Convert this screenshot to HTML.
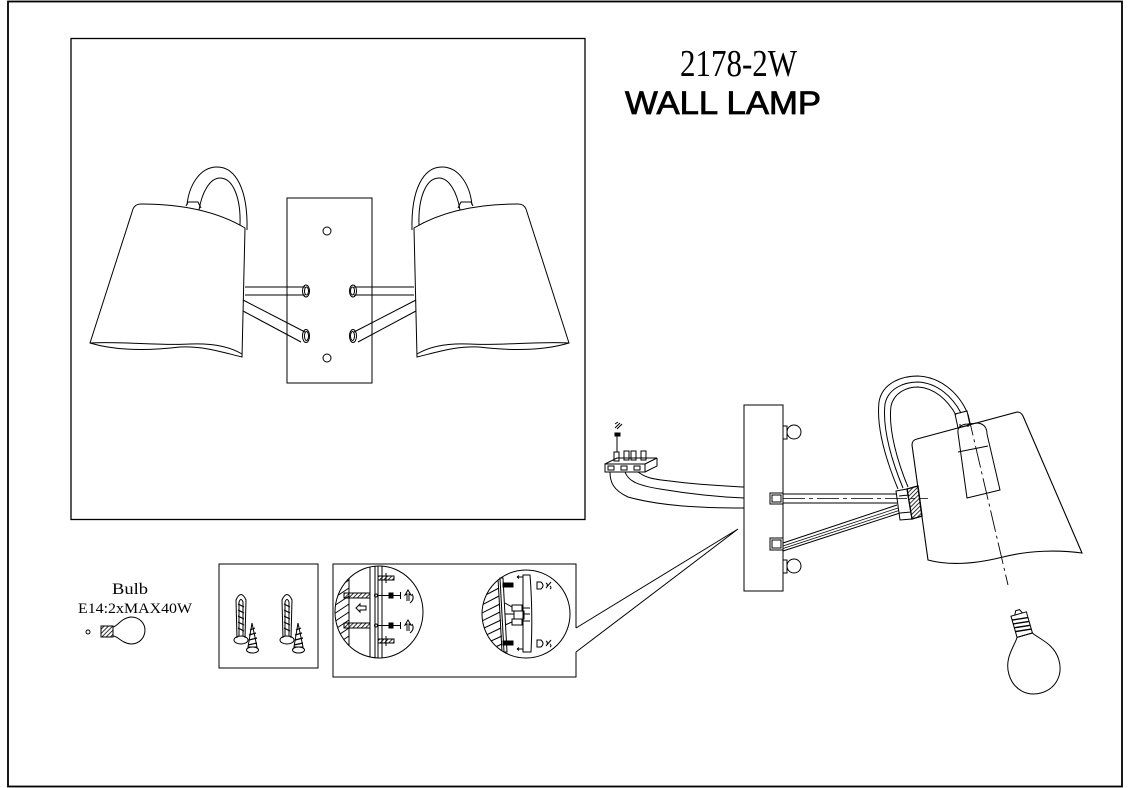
<!DOCTYPE html>
<html><head><meta charset="utf-8"><style>
html,body{margin:0;padding:0;background:#fff;}
svg{display:block;}
</style></head><body>
<svg width="1131" height="788" viewBox="0 0 1131 788" xmlns="http://www.w3.org/2000/svg">
<defs>
<pattern id="h" width="3" height="3" patternUnits="userSpaceOnUse" patternTransform="rotate(45)"><line x1="0" y1="0" x2="0" y2="3" stroke="#000" stroke-width="1.6"/></pattern>
<clipPath id="c1"><ellipse cx="379" cy="612" rx="44" ry="46"/></clipPath>
<clipPath id="c2"><ellipse cx="526" cy="614" rx="44" ry="44"/></clipPath>
</defs>
<rect width="1131" height="788" fill="#fff"/>
<g fill="none" stroke="#000" stroke-width="1">
<!-- frames -->
<rect x="8" y="1.5" width="1114" height="785" stroke-width="1.8"/>
<rect x="71" y="38.5" width="514" height="481" stroke-width="1.3"/>

<!-- front view -->
<rect x="287" y="198" width="85" height="185"/>
<circle cx="327" cy="231" r="4"/>
<circle cx="327" cy="358" r="4"/>
<g>
<path d="M133,209 Q135,204 141,204 Q205,204 245,228 L242,357 C225,353 205,346 180,347 C155,350 120,352 90,343 Z"/>
<path d="M90,343 C120,341 160,346 190,344 C215,343 232,348 242,354"/>
<path d="M187,205 C189,185 200,167 217,167 C236,167 248,190 247,230"/>
<path d="M199,210 C202,192 210,178 220,178 C233,178 241,198 240,225"/>
<path d="M186,206 L188,202 L198,202 L201,208"/>
<line x1="245" y1="287" x2="305" y2="287"/><line x1="245" y1="295" x2="305" y2="295"/>
<ellipse cx="306" cy="291" rx="3.5" ry="6"/><ellipse cx="306.5" cy="291" rx="2" ry="4"/>
<line x1="243" y1="300" x2="305" y2="332"/><line x1="243" y1="311" x2="301" y2="342"/>
<ellipse cx="306" cy="336" rx="3.5" ry="6.5"/><ellipse cx="306.5" cy="336" rx="2" ry="4.5"/>
</g>
<g transform="translate(659,0) scale(-1,1)">
<path d="M133,209 Q135,204 141,204 Q205,204 245,228 L242,357 C225,353 205,346 180,347 C155,350 120,352 90,343 Z"/>
<path d="M90,343 C120,341 160,346 190,344 C215,343 232,348 242,354"/>
<path d="M187,205 C189,185 200,167 217,167 C236,167 248,190 247,230"/>
<path d="M199,210 C202,192 210,178 220,178 C233,178 241,198 240,225"/>
<path d="M186,206 L188,202 L198,202 L201,208"/>
<line x1="245" y1="287" x2="305" y2="287"/><line x1="245" y1="295" x2="305" y2="295"/>
<ellipse cx="306" cy="291" rx="3.5" ry="6"/><ellipse cx="306.5" cy="291" rx="2" ry="4"/>
<line x1="243" y1="300" x2="305" y2="332"/><line x1="243" y1="311" x2="301" y2="342"/>
<ellipse cx="306" cy="336" rx="3.5" ry="6.5"/><ellipse cx="306.5" cy="336" rx="2" ry="4.5"/>
</g>

<!-- side view: wall plate -->
<rect x="744" y="405" width="39" height="186"/>
<rect x="783" y="426" width="4" height="13"/><circle cx="794" cy="432" r="7"/>
<rect x="783" y="560" width="4" height="13"/><circle cx="794" cy="566" r="7"/>
<rect x="770" y="493" width="13" height="11"/><rect x="772" y="495" width="9" height="7"/>
<rect x="770" y="538" width="13" height="12"/><rect x="772" y="540" width="9" height="8"/>
<!-- arms -->
<line x1="783" y1="494" x2="897" y2="494"/>
<line x1="783" y1="503" x2="897" y2="503"/>
<line x1="783" y1="498.5" x2="928" y2="498.5" stroke-dasharray="22 4 4 4" stroke-width="0.8"/>
<line x1="783" y1="543" x2="897" y2="505"/>
<line x1="783" y1="551" x2="900" y2="513"/>
<line x1="783" y1="546" x2="898" y2="508" stroke-width="0.7"/>
<line x1="783" y1="548.5" x2="899" y2="510.5" stroke-width="0.7"/>
<!-- joint -->
<path d="M896,491 L907,489 L912,519 L900,520 Z"/>
<line x1="899" y1="496" x2="909" y2="495"/><line x1="900" y1="513" x2="911" y2="512"/>
<path d="M907,489 L918,486 L922,516 L912,519 Z" fill="url(#h)" stroke-width="1.3"/>
<!-- handle -->
<path d="M898,489 C888,465 876,430 879,402 C882,384 900,376 918,376 C940,377 958,392 967,412"/>
<path d="M903,488 C893,464 882,430 885,404 C888,389 903,382 918,382 C937,383 952,396 961,413"/>
<path d="M908,487 C898,463 888,430 891,406 C894,393 906,387 918,387 C934,388 947,399 956,415"/>
<path d="M955,414 L967,411 L970,425 L958,428 Z"/>
<!-- shade -->
<path d="M912,445 Q912,440 917,439 L1017,412 Q1021,412 1023,416 L1082,553 C1060,550 1030,550 1003,557 C975,564 950,566 928,560 Z" stroke-width="1.1"/>
<!-- socket -->
<path d="M958,433 C957,427 962,424 968,424 L978,423 C984,424 987,428 987,434 L1000,490 L967,498 Z"/>
<path d="M960,428 L960,424 M968,424 L968,427"/>
<line x1="958" y1="452" x2="988" y2="446"/>
<line x1="968" y1="414" x2="1008" y2="585" stroke-dasharray="22 4 3 4" stroke-width="0.9"/>
<!-- side bulb -->
<g transform="translate(1033,664) rotate(-16)">
<path d="M-8,-30 C-12,-23 -26,-14 -26,3 C-26,20 -14,30 0,30 C14,30 26,20 26,3 C26,-14 12,-23 8,-30 Z"/>
<rect x="-8" y="-52" width="16" height="22"/>
<path d="M-8,-48 L8,-46 M-8,-44 L8,-42 M-8,-40 L8,-38 M-8,-36 L8,-34" stroke-width="1.4"/>
<path d="M-4,-52 L-2,-56 L2,-56 L4,-52"/>
</g>
<!-- terminal block -->
<rect x="605" y="464" width="40" height="8"/>
<path d="M605,464 L617,458 L657,458 L645,464"/>
<path d="M645,472 L657,466 L657,458"/>
<rect x="608" y="466" width="6" height="4"/><rect x="621" y="466" width="6" height="4"/><rect x="634" y="466" width="6" height="4"/>
<rect x="614" y="452" width="5" height="9"/><rect x="624" y="451" width="5" height="9"/><rect x="631" y="451" width="5" height="9"/><rect x="641" y="451" width="5" height="9"/>
<line x1="617" y1="436" x2="617" y2="452"/>
<rect x="615" y="433" width="5" height="3" fill="#000"/>
<path d="M615,428 L620,423 M617,429 L622,424 M615,424 L618,422"/>
<!-- wires -->
<path d="M610,472 C610,482 613,490 628,497 C660,506 700,508 744,508"/>
<path d="M625,472 C628,480 635,485 660,489 C690,494 720,497 744,498"/>
<path d="M638,472 C645,477 650,479 670,481 C700,485 725,486 744,487"/>
<!-- callout -->
<polyline points="576,628 738,529 576,652"/>

<!-- hardware box -->
<rect x="219" y="564" width="99" height="104"/>
<g>
<path d="M237,638 L236,600 Q241,589 246,600 L245,638"/>
<path d="M239,636 L239,602 Q241,597 243,602 L243,636"/>
<path d="M238,604 L244,607 M238,610 L244,613 M238,616 L244,619 M238,622 L244,625 M238,628 L244,631" stroke-width="1.2"/>
<ellipse cx="241" cy="640" rx="7" ry="4"/>
<path d="M252,623 L248,647 L257,647 Z"/>
<path d="M250,630 L255,628 M249,635 L256,633 M249,640 L257,638 M248,645 L257,643" stroke-width="1.2"/>
<ellipse cx="252.5" cy="650" rx="6" ry="3"/>
</g>
<g transform="translate(46,0)">
<path d="M237,638 L236,600 Q241,589 246,600 L245,638"/>
<path d="M239,636 L239,602 Q241,597 243,602 L243,636"/>
<path d="M238,604 L244,607 M238,610 L244,613 M238,616 L244,619 M238,622 L244,625 M238,628 L244,631" stroke-width="1.2"/>
<ellipse cx="241" cy="640" rx="7" ry="4"/>
<path d="M252,623 L248,647 L257,647 Z"/>
<path d="M250,630 L255,628 M249,635 L256,633 M249,640 L257,638 M248,645 L257,643" stroke-width="1.2"/>
<ellipse cx="252.5" cy="650" rx="6" ry="3"/>
</g>

<!-- inset box -->
<path d="M576,628 L576,564 L333,564 L333,677 L576,677 L576,652"/>
<!-- left circle -->
<ellipse cx="379" cy="612" rx="44" ry="46"/>
<g clip-path="url(#c1)">
<line x1="349" y1="576" x2="349" y2="650"/>
<path d="M334,590 L349,580 M334,598 L349,588 M334,606 L349,596 M334,614 L349,604 M334,622 L349,612 M334,630 L349,620 M334,638 L349,628 M334,646 L349,636 M334,654 L349,644 M334,662 L349,652"/>
<rect x="370" y="560" width="5" height="100"/>
<rect x="378" y="562" width="4" height="98"/>
</g>
<rect x="344" y="593" width="26" height="5" fill="url(#h)"/>
<rect x="344" y="623" width="26" height="5" fill="url(#h)"/>
<circle cx="376" cy="595.5" r="1.5"/><circle cx="376" cy="625.5" r="1.5"/>
<line x1="377" y1="595.5" x2="401" y2="595.5"/><line x1="377" y1="625.5" x2="401" y2="625.5"/>
<rect x="389" y="593" width="4" height="5" fill="#000"/><rect x="389" y="623" width="4" height="5" fill="#000"/>
<line x1="400.5" y1="592" x2="400.5" y2="599"/><line x1="400.5" y1="622" x2="400.5" y2="629"/>
<path d="M407,601 L407,594 L405,595 L408,590 L411,595 L409,594 L409,601 M412,594 Q415,599 410,603"/>
<path d="M407,631 L407,624 L405,625 L408,620 L411,625 L409,624 L409,631 M412,624 Q415,629 410,633"/>
<rect x="378" y="576" width="16" height="4" fill="url(#h)"/>
<rect x="378" y="639" width="16" height="4" fill="url(#h)"/>
<line x1="386" y1="573" x2="386" y2="583"/><line x1="386" y1="636" x2="386" y2="646"/>
<path d="M366,606 L360,606 L360,604 L356,608 L360,612 L360,610 L366,610 Z"/>
<!-- right circle -->
<ellipse cx="526" cy="614" rx="44" ry="44"/>
<g clip-path="url(#c2)">
<path d="M498,578 L502,652"/>
<path d="M480,590 L498,580 M480,598 L499,588 M480,606 L499,596 M480,614 L500,604 M480,622 L500,612 M480,630 L501,620 M480,638 L501,628 M480,646 L502,636 M480,654 L502,644 M480,662 L502,652"/>
</g>
<path d="M500,578 L503,578 L507,652 L504,652 Z"/>
<path d="M523,575 L530,575 Q533,613 531,652 L523,652 Z"/>
<rect x="503" y="583" width="10" height="4" fill="#000"/>
<rect x="503" y="641" width="10" height="4" fill="#000"/>
<path d="M517,577 L523,577 M517,577 L519,575.5 M517,577 L519,578.5"/>
<path d="M517,649 L523,649 M517,649 L519,647.5 M517,649 L519,650.5"/>
<rect x="512" y="605" width="10" height="6"/><rect x="514" y="611" width="10" height="8"/><rect x="512" y="619" width="10" height="6"/>
<path d="M505,603 L512,607 M505,625 L512,622 M505,614 L514,614 M524,614 L530,614 M522,608 L530,608 M522,621 L530,621"/>
<path d="M537,582 L541,582 Q545,585.5 541,589 L537,589 Z"/>
<path d="M537,640 L541,640 Q545,643.5 541,647 L537,647 Z"/>
<path d="M546,588 L551,582 M546,583 Q548,584 547,586 M550,586 Q552,588 550,589"/>
<path d="M546,646 L551,640 M546,641 Q548,642 547,644 M550,644 Q552,646 550,647"/>

<!-- small bulb icon -->
<circle cx="88" cy="632" r="2"/>
<rect x="101" y="626" width="12" height="11" fill="url(#h)"/>
<path d="M113,627 C118,626 121,618 131,617 C140,617 145,624 145,630 C145,637 140,644 131,644 C121,643 118,636 113,636"/>
</g>

<!-- texts -->
<g fill="#000">
<text x="680" y="76" font-family="Liberation Serif, serif" font-size="38" textLength="117" lengthAdjust="spacingAndGlyphs" stroke="none">2178-2W</text>
<text x="625" y="114" font-family="Liberation Sans, sans-serif" font-size="32" textLength="196" lengthAdjust="spacingAndGlyphs" stroke="#000" stroke-width="0.8">WALL LAMP</text>
<text x="112" y="594" font-family="Liberation Serif, serif" font-size="16" textLength="36" lengthAdjust="spacingAndGlyphs" stroke="none">Bulb</text>
<text x="78" y="613" font-family="Liberation Serif, serif" font-size="15" textLength="114" lengthAdjust="spacingAndGlyphs" stroke="none">E14:2xMAX40W</text>
</g>
</svg>
</body></html>
